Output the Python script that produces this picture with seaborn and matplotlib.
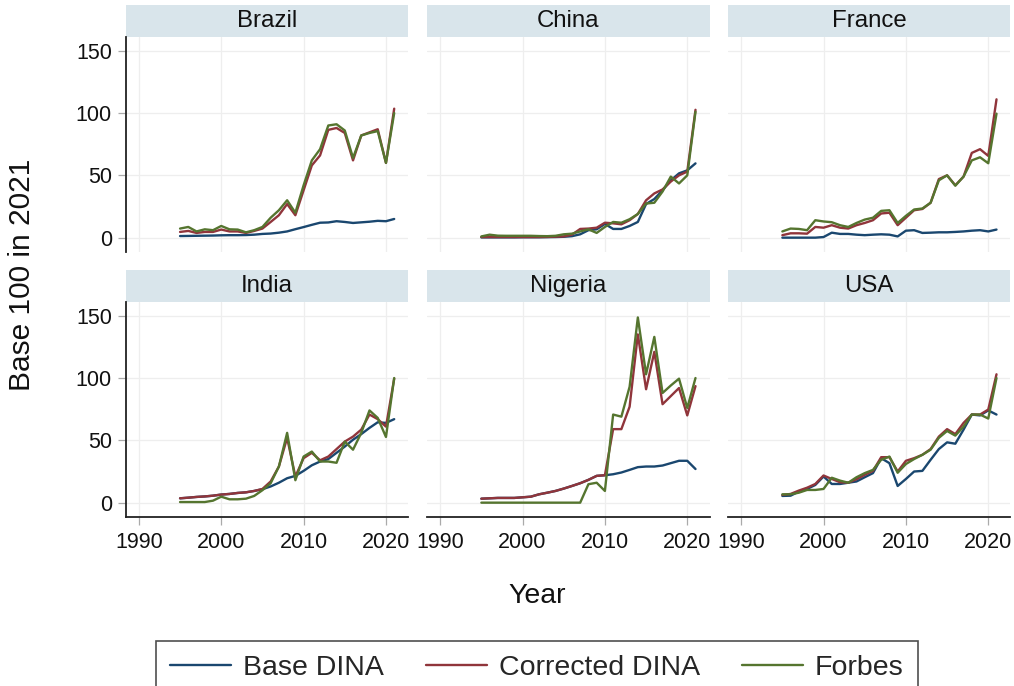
import numpy as np
import pandas as pd
import matplotlib
matplotlib.use("Agg")
import matplotlib.pyplot as plt
from matplotlib.patches import Rectangle
from matplotlib.lines import Line2D
import seaborn as sns

# ---------------- data ----------------
years = list(range(1995, 2022))
countries = ["Brazil", "China", "France", "India", "Nigeria", "USA"]
series_names = ["Base DINA", "Corrected DINA", "Forbes"]

brazil_base = [1.3, 1.4, 1.5, 1.6, 1.7, 1.9, 2.0, 2.0, 2.1, 2.4, 3.0, 3.3, 4.0, 5.0, 6.8, 8.5,
               10.3, 12.0, 12.2, 13.2, 12.6, 11.8, 12.3, 12.8, 13.5, 13.2, 15.0]
brazil_corr = [4.6, 5.4, 3.8, 4.6, 4.6, 6.5, 5.0, 5.0, 3.8, 5.4, 7.3, 12.6, 18, 27, 18, 38,
               58, 66, 86.5, 88, 84, 62, 82, 84.5, 87, 60, 103.5]
brazil_forbes = [7.3, 8.6, 5.0, 6.7, 6.0, 9.4, 6.7, 6.5, 4.3, 6.0, 8.6, 16, 22, 30, 20, 42,
                 62, 71, 90, 91, 86, 64, 82, 84, 85.5, 60, 100]

china_base = [0.2, 0.2, 0.2, 0.2, 0.2, 0.3, 0.3, 0.3, 0.4, 0.5, 0.7, 1.2, 2.7, 6.0, 6.7, 11,
              7, 7, 9.4, 12.6, 27, 31, 38, 46, 51.6, 54, 59.6]
china_corr = [0.5, 0.5, 0.5, 0.5, 0.5, 0.5, 0.5, 0.5, 0.6, 0.8, 1.0, 2.4, 7, 7.3, 8, 12,
              11.5, 10.7, 14, 19, 30, 35.5, 38.7, 45, 50, 53, 102.6]
china_forbes = [1.0, 2.4, 1.6, 1.5, 1.5, 1.5, 1.5, 1.3, 1.2, 1.5, 2.7, 3.2, 5, 6.7, 3.8, 8.6,
                12.6, 12, 14.8, 19, 27.4, 28, 37, 49, 43.5, 50, 101]

france_base = [0, 0, 0, 0, 0, 0.5, 4, 3, 3, 2.4, 2, 2.4, 2.7, 2.4, 1, 5.6,
               6, 3.8, 4, 4.3, 4.3, 4.6, 5, 5.6, 6, 5, 6.5]
france_corr = [2, 3.5, 3.5, 3.2, 8.6, 8, 10, 8, 7.3, 10, 11.8, 14, 19.4, 20, 10, 16,
               22, 23, 28, 47, 50, 42, 49, 68, 71, 65.6, 111]
france_forbes = [5, 7.3, 7, 6, 14, 13, 12.4, 10, 8.6, 11.8, 14.5, 16, 21.5, 22, 11.8, 17.5,
                 22.6, 23.4, 28, 46, 50, 41.7, 49, 62, 64.5, 59.7, 99.5]

india_base = [3.5, 4, 4.6, 5, 5.6, 6.5, 7, 7.8, 8.3, 9.4, 10.8, 13, 16, 19.6, 21.5, 25.5,
              30, 33, 35, 40, 45, 50.5, 55, 60, 64.5, 64, 67]
india_corr = [3.5, 4, 4.6, 5, 5.6, 6.5, 7, 7.8, 8.3, 9.4, 11, 17, 29, 52, 21, 35.7,
              40, 34, 37, 43, 49, 53, 58.6, 70.7, 67, 61, 99.5]
india_forbes = [0.5, 0.5, 0.5, 0.5, 1.6, 4.8, 2.7, 2.7, 3.2, 5.4, 10, 15.6, 29, 56, 18, 37,
                41, 33, 33, 32, 49, 42.5, 56, 74, 68, 52.7, 100]

nigeria_base = [3.2, 3.5, 3.8, 3.8, 3.8, 4.3, 4.8, 6.7, 8, 9.4, 11.3, 13.4, 15.6, 18.3, 21.5, 22,
                22.8, 24.2, 26.3, 28.5, 29, 29, 29.8, 31.7, 33.6, 33.6, 27]
nigeria_corr = [3.2, 3.5, 3.8, 3.8, 3.8, 4.3, 4.8, 6.7, 8, 9.4, 11.3, 13.4, 15.6, 18.3, 21.5, 22,
                59, 59, 77, 135, 91, 121, 79, 85.5, 92, 70, 93.5]
nigeria_forbes = [0, 0, 0, 0, 0, 0, 0, 0, 0, 0, 0, 0, 0, 14.8, 16, 9.4,
                  70.7, 69, 93, 148.6, 103, 133, 88, 94, 99.5, 76, 100]

usa_base = [5.4, 5.6, 8.9, 11, 14.2, 21, 15, 15, 16, 17, 20.4, 23.7, 35.7, 31.7, 13.4, 19,
            25, 25.5, 34.4, 43, 48.4, 47.3, 58.6, 70.7, 70, 74, 70.7]
usa_corr = [6.2, 7, 9.7, 12, 15, 21.8, 19, 16.4, 16, 18.8, 22.3, 25.5, 36.5, 36.5, 25, 33.6,
            35.7, 38.4, 43, 53, 59, 55, 64, 70.7, 70.7, 74.7, 103]
usa_forbes = [6.7, 6.7, 8, 10.2, 10.2, 11, 20, 17.7, 16, 20.4, 23.7, 26.3, 34.4, 37, 24, 31,
              35, 38.4, 42.5, 52, 57.5, 53.8, 61, 70.7, 70.7, 67.5, 100]

x_ticks = [1990, 2000, 2010, 2020]
y_ticks = [0, 50, 100, 150]

values = {
    "Brazil": (brazil_base, brazil_corr, brazil_forbes),
    "China": (china_base, china_corr, china_forbes),
    "France": (france_base, france_corr, france_forbes),
    "India": (india_base, india_corr, india_forbes),
    "Nigeria": (nigeria_base, nigeria_corr, nigeria_forbes),
    "USA": (usa_base, usa_corr, usa_forbes),
}

rows = []
for c in countries:
    for s, arr in zip(series_names, values[c]):
        for y, v in zip(years, arr):
            rows.append((c, s, y, v))
df = pd.DataFrame(rows, columns=["Country", "Series", "Year", "Value"])

# ---------------- style ----------------
sns.set_theme(style="white")
plt.rcParams["font.family"] = ["Liberation Sans", "DejaVu Sans"]

palette = {"Base DINA": "#1a476f", "Corrected DINA": "#90353b", "Forbes": "#55752f"}
strip_color = "#d9e5eb"
grid_color = "#eeeeee"

W, H = 1014, 686
fig = plt.figure(figsize=(W / 100, H / 100), dpi=100)
fig.patch.set_facecolor("white")

col_left = [125.7, 427, 728]
ax_w = 282.5
row_top = [37, 302]
ax_h = 215
strip_h = 32

for i, c in enumerate(countries):
    r, k = divmod(i, 3)
    left = col_left[k] / W
    bottom = 1 - (row_top[r] + ax_h) / H
    ax = fig.add_axes([left, bottom, ax_w / W, ax_h / H])
    sub = df[df["Country"] == c]
    sns.lineplot(data=sub, x="Year", y="Value", hue="Series", hue_order=series_names,
                 palette=palette, linewidth=1.7, ax=ax, legend=False)
    ax.set_xlim(1988.4, 2022.7)
    ax.set_ylim(-11.5, 161)
    ax.set_xticks(x_ticks)
    ax.set_yticks(y_ticks)
    ax.grid(True, color=grid_color, linewidth=0.9)
    ax.set_axisbelow(True)
    for sp in ax.spines.values():
        sp.set_visible(False)
    ax.set_xlabel("")
    ax.set_ylabel("")
    if k == 0:
        ax.spines["left"].set_visible(True)
        ax.spines["left"].set_color("#222222")
        ax.spines["left"].set_linewidth(1.3)
        ax.tick_params(axis="y", left=True, length=6, width=0.9, color="#aaaaaa",
                       labelsize=15.5, pad=4, labelcolor="#111111")
    else:
        ax.tick_params(axis="y", left=False, labelleft=False)
    if r == 1:
        ax.spines["bottom"].set_visible(True)
        ax.spines["bottom"].set_color("#222222")
        ax.spines["bottom"].set_linewidth(1.3)
        ax.tick_params(axis="x", bottom=True, length=6, width=0.9, color="#aaaaaa",
                       labelsize=15.5, pad=5, labelcolor="#111111")
    else:
        ax.tick_params(axis="x", bottom=False, labelbottom=False)
    # strip header
    rect = Rectangle((0, 1), 1, strip_h / ax_h, transform=ax.transAxes,
                     facecolor=strip_color, edgecolor="none", clip_on=False, zorder=0)
    ax.add_patch(rect)
    ax.text(0.5, 1 + strip_h / ax_h / 2, c, transform=ax.transAxes, ha="center",
            va="center", fontsize=17.3, color="#111111")

fig.text(22 / W, 1 - 275 / H, "Base 100 in 2021", rotation=90, ha="center", va="center",
         fontsize=21.5, color="#111111")
fig.text(537 / W, 1 - 596 / H, "Year", ha="center", va="center", fontsize=20.5,
         color="#111111")

handles = [Line2D([0], [0], color=palette[s], lw=1.7) for s in series_names]
leg = fig.legend(handles, series_names, loc="upper center", ncol=3,
                 bbox_to_anchor=(537 / W, 1 - 641 / H), fontsize=20.5,
                 frameon=True, fancybox=False, handlelength=2.14, handletextpad=0.42,
                 columnspacing=1.47, borderpad=0.5, borderaxespad=0)
leg.get_frame().set_edgecolor("#222222")
leg.get_frame().set_linewidth(1.2)

fig.savefig("out.png", dpi=100, facecolor="white")
